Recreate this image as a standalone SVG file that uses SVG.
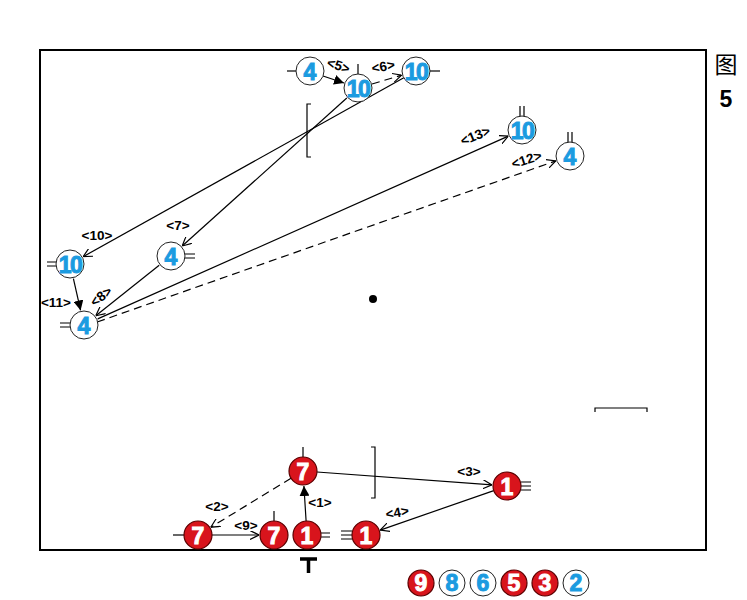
<svg xmlns="http://www.w3.org/2000/svg" width="747" height="600" viewBox="0 0 747 600">
<style>
.frame{fill:none;stroke:#000;stroke-width:2}
.bn{fill:#fff;stroke:#222;stroke-width:1}
.rn{fill:#d8141c;stroke:#5a0000;stroke-width:1.2}
.bt{fill:#1b9be0;font-family:"Liberation Sans",Arial,sans-serif;font-weight:bold;font-size:23px;text-anchor:middle;stroke:#1b9be0;stroke-width:1}
.rt{fill:#fff;font-family:"Liberation Sans",Arial,sans-serif;font-weight:bold;font-size:23px;text-anchor:middle;stroke:#fff;stroke-width:1}
.tick{stroke:#000;stroke-width:1.2;fill:none}
.ln{stroke:#000;stroke-width:1.2;fill:none}
.dash{stroke-dasharray:8 5}
.lbl{font-family:"Liberation Sans",Arial,sans-serif;font-weight:bold;font-size:13.5px;fill:#000;text-anchor:middle}
.cap{font-family:"Liberation Sans","Noto Sans CJK SC",sans-serif;font-size:23px;fill:#000;text-anchor:middle}
</style>
<defs>
<marker id="open" viewBox="0 0 10 10" refX="10" refY="5" markerWidth="9" markerHeight="9" markerUnits="userSpaceOnUse" orient="auto"><path d="M0,0 L10,5 L0,10" fill="none" stroke="#000" stroke-width="1.3"/></marker>
<marker id="solid" viewBox="0 0 10 10" refX="10" refY="5" markerWidth="10" markerHeight="10" markerUnits="userSpaceOnUse" orient="auto"><path d="M0,0 L10,5 L0,10 z" fill="#000"/></marker>
</defs>
<rect x="0" y="0" width="747" height="600" fill="#fff"/>
<rect class="frame" x="40" y="50" width="666" height="500"/>
<text class="cap" x="726" y="73">图</text>
<text class="cap" x="726" y="107" font-weight="bold">5</text>

<g id="connectors">
<line class="ln" x1="323" y1="76" x2="344" y2="83" marker-end="url(#solid)"/>
<line class="ln dash" x1="372" y1="84" x2="401.6" y2="75.2" marker-end="url(#open)"/>
<line class="ln" x1="346.8" y1="98" x2="182.2" y2="246" marker-end="url(#open)"/>
<line class="ln" x1="403.8" y1="77.8" x2="83.1" y2="256.7" marker-end="url(#open)"/>
<line class="ln" x1="73.4" y1="278.6" x2="80.6" y2="310.4" marker-end="url(#solid)"/>
<line class="ln" x1="159.2" y1="265.3" x2="95.8" y2="315.7" marker-end="url(#open)"/>
<line class="ln" x1="97.7" y1="318.9" x2="508.3" y2="136.1" marker-end="url(#open)"/>
<line class="ln dash" x1="97.2" y1="322" x2="555.8" y2="160.9" marker-end="url(#open)"/>
<line class="ln" x1="306.1" y1="521" x2="303.9" y2="486" marker-end="url(#solid)"/>
<line class="ln dash" x1="291" y1="478.3" x2="210.8" y2="527.2" marker-end="url(#open)"/>
<line class="ln" x1="212" y1="535" x2="259" y2="535" marker-end="url(#open)"/>
<line class="ln" x1="317" y1="472" x2="492" y2="484.9" marker-end="url(#open)"/>
<line class="ln" x1="493.8" y1="490.6" x2="380.2" y2="530.1" marker-end="url(#open)"/>
</g>

<g id="labels">
<text class="lbl" x="337" y="70" transform="rotate(18 337 70)">&lt;5&gt;</text>
<text class="lbl" x="384" y="71" transform="rotate(-10 384 71)">&lt;6&gt;</text>
<text class="lbl" x="178" y="230">&lt;7&gt;</text>
<text class="lbl" x="97" y="240">&lt;10&gt;</text>
<text class="lbl" x="56" y="307">&lt;11&gt;</text>
<text class="lbl" x="104" y="300" transform="rotate(-38 104 300)">&lt;8&gt;</text>
<text class="lbl" x="477" y="140" transform="rotate(-22 477 140)">&lt;13&gt;</text>
<text class="lbl" x="528" y="164" transform="rotate(-18 528 164)">&lt;12&gt;</text>
<text class="lbl" x="320" y="507">&lt;1&gt;</text>
<text class="lbl" x="217" y="511">&lt;2&gt;</text>
<text class="lbl" x="246" y="530">&lt;9&gt;</text>
<text class="lbl" x="469" y="476">&lt;3&gt;</text>
<text class="lbl" x="398" y="517" transform="rotate(-10 398 517)">&lt;4&gt;</text>
</g>

<g id="marks">
<path class="tick" d="M311,104 H307 V157 H311"/>
<path class="tick" d="M371,447 H375 V498 H371"/>
<path class="tick" d="M595,412 V408 H647 V412" stroke-width="2"/>
<circle cx="373" cy="299" r="4" fill="#000"/>
<path d="M300,559 H317 M308.5,559 V573" stroke="#000" stroke-width="3.5" fill="none"/>
</g>

<g id="n4a"><line class="tick" x1="287" y1="71" x2="296" y2="71"/><circle class="bn" cx="310" cy="71" r="14"/><text class="bt" x="310" y="79.5">4</text></g>
<g id="n10a"><line class="tick" x1="358" y1="64" x2="358" y2="74"/><circle class="bn" cx="358" cy="88" r="14"/><text class="bt" x="358" y="96.5" letter-spacing="-1.5">10</text></g>
<g id="n10b"><line class="tick" x1="430" y1="71" x2="440" y2="71"/><circle class="bn" cx="416" cy="71" r="14"/><text class="bt" x="416" y="79.5" letter-spacing="-1.5">10</text></g>
<g id="n10c"><path class="tick" d="M520,106 V116 M524,106 V116"/><circle class="bn" cx="522" cy="130" r="14"/><text class="bt" x="522" y="138.5" letter-spacing="-1.5">10</text></g>
<g id="n4b"><path class="tick" d="M568,132 V142 M572,132 V142"/><circle class="bn" cx="570" cy="156" r="14"/><text class="bt" x="570" y="164.5">4</text></g>
<g id="n10d"><path class="tick" d="M47,262 H56 M47,266 H56"/><circle class="bn" cx="70" cy="264" r="14"/><text class="bt" x="70" y="272.5" letter-spacing="-1.5">10</text></g>
<g id="n4c"><path class="tick" d="M185,254 H195 M185,258 H195"/><circle class="bn" cx="171" cy="256" r="14"/><text class="bt" x="171" y="264.5">4</text></g>
<g id="n4d"><path class="tick" d="M60,323 H70 M60,327 H70"/><circle class="bn" cx="84" cy="325" r="14"/><text class="bt" x="84" y="333.5">4</text></g>

<g id="n7a"><line class="tick" x1="303" y1="447" x2="303" y2="457"/><circle class="rn" cx="303" cy="471" r="14"/><text class="rt" x="303" y="479.5">7</text></g>
<g id="n7b"><line class="tick" x1="173" y1="535" x2="184" y2="535"/><circle class="rn" cx="198" cy="535" r="14"/><text class="rt" x="198" y="543.5">7</text></g>
<g id="n7c"><line class="tick" x1="274" y1="511" x2="274" y2="521"/><circle class="rn" cx="274" cy="535" r="14"/><text class="rt" x="274" y="543.5">7</text></g>
<g id="n1a"><path class="tick" d="M321,533 H330 M321,537 H330"/><circle class="rn" cx="307" cy="535" r="14"/><text class="rt" x="307" y="543.5">1</text></g>
<g id="n1b"><path class="tick" d="M341,531 H352 M341,535 H352 M341,539 H352"/><circle class="rn" cx="366" cy="535" r="14"/><text class="rt" x="366" y="543.5">1</text></g>
<g id="n1c"><path class="tick" d="M521,482 H531 M521,486 H531 M521,490 H531"/><circle class="rn" cx="507" cy="486" r="14"/><text class="rt" x="507" y="494.5">1</text></g>

<g id="legend">
<circle class="rn" cx="421" cy="583" r="13"/><text class="rt" x="421" y="590.5" font-size="21">9</text>
<circle class="bn" cx="452" cy="583" r="13"/><text class="bt" x="452" y="590.5" font-size="21">8</text>
<circle class="bn" cx="483" cy="583" r="13"/><text class="bt" x="483" y="590.5" font-size="21">6</text>
<circle class="rn" cx="514" cy="583" r="13"/><text class="rt" x="514" y="590.5" font-size="21">5</text>
<circle class="rn" cx="545" cy="583" r="13"/><text class="rt" x="545" y="590.5" font-size="21">3</text>
<circle class="bn" cx="576" cy="583" r="13"/><text class="bt" x="576" y="590.5" font-size="21">2</text>
</g>
</svg>
